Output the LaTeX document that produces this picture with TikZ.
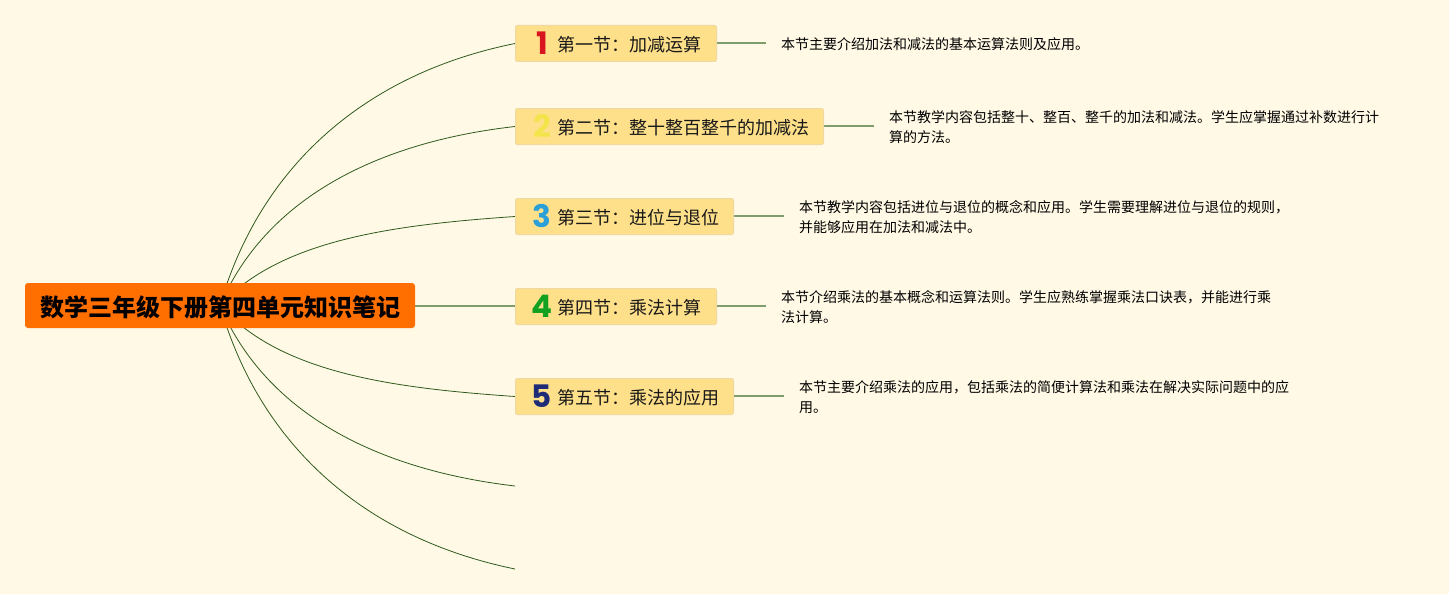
\documentclass[tikz,border=0pt]{standalone}
\usepackage{fontspec}
\setmainfont{Noto Sans CJK SC}
\newfontfamily\numfont{Poppins}
\pgfdeclarelayer{paper}
\pgfdeclarelayer{edges}
\pgfsetlayers{paper,edges,main}
\definecolor{bgc}{HTML}{FFF9E6}
\definecolor{rootc}{HTML}{FF6F00}
\definecolor{boxc}{HTML}{FFE08A}
\definecolor{boxl}{HTML}{EFD9A0}
\definecolor{curvec}{HTML}{2E5A1C}
\definecolor{stubc}{HTML}{7E9C6C}
\definecolor{num1}{HTML}{D8141E}
\definecolor{num2}{HTML}{F3E44C}
\definecolor{num3}{HTML}{2A9FD8}
\definecolor{num4}{HTML}{12A020}
\definecolor{num5}{HTML}{1E2C78}
\tikzset{
  x=1pt,y=-1pt,
  rootbox/.style={fill=rootc,rounded corners=3pt,minimum width=390pt,minimum height=45pt,inner sep=0pt},
  roottext/.style={font=\fontsize{24}{24}\selectfont\bfseries,text=black,inner sep=0pt},
  secbox/.style={fill=boxc,draw=boxl,line width=1pt,rounded corners=2pt,minimum height=36pt,inner sep=0pt,anchor=west},
  sectext/.style={font=\fontsize{18}{18}\selectfont,text=black!90,anchor=west,inner sep=0pt},
  numtext/.style={font=\numfont\fontsize{31}{31}\selectfont\bfseries,anchor=center,inner sep=0pt},
  desc/.style={font=\fontsize{14}{20.5}\selectfont,text=black,anchor=west,align=left,inner sep=0pt},
  curve/.style={draw=curvec,line width=0.8pt},
  stub/.style={draw=stubc,line width=1.6pt},
}
\begin{document}
\begin{tikzpicture}
\begin{pgfonlayer}{paper}
\path[use as bounding box,fill=bgc] (0,0) rectangle (1449,594);
\end{pgfonlayer}
\node[rootbox] (root) at (220,305.5) {};
\node[roottext] (rt) at (220.5,307) {数学三年级下册第四单元知识笔记};
\node[secbox,minimum width=201pt] (s1) at (515,43.5) {};
\node[secbox,minimum width=308pt] (s2) at (515,126.5) {};
\node[secbox,minimum width=218pt] (s3) at (515,216.5) {};
\node[secbox,minimum width=201pt] (s4) at (515,306.5) {};
\node[secbox,minimum width=218pt] (s5) at (515,396.5) {};
\node[numtext,text=num1] (n1) at (542,43) {1};
\node[numtext,text=num2] (n2) at (542,126) {2};
\node[numtext,text=num3] (n3) at (542,216) {3};
\node[numtext,text=num4] (n4) at (542,306) {4};
\node[numtext,text=num5] (n5) at (542,396) {5};
\node[sectext] (t1) at (557.5,45) {第一节：加减运算};
\node[sectext] (t2) at (557.5,128) {第二节：整十整百整千的加减法};
\node[sectext] (t3) at (557.5,218) {第三节：进位与退位};
\node[sectext] (t4) at (557.5,308) {第四节：乘法计算};
\node[sectext] (t5) at (557.5,398) {第五节：乘法的应用};
\coordinate (e1) at (766,43);
\coordinate (e2) at (874,126);
\coordinate (e3) at (784,216);
\coordinate (e4) at (766,306);
\coordinate (e5) at (784,396);
\coordinate (r4) at (415,306);
\node[desc] (d1) at (781,44) {本节主要介绍加法和减法的基本运算法则及应用。};
\node[desc] (d2) at (889,127) {本节教学内容包括整十、整百、整千的加法和减法。学生应掌握通过补数进行计\\算的方法。};
\node[desc] (d3) at (799,217) {本节教学内容包括进位与退位的概念和应用。学生需要理解进位与退位的规则，\\并能够应用在加法和减法中。};
\node[desc] (d4) at (781,307) {本节介绍乘法的基本概念和运算法则。学生应熟练掌握乘法口诀表，并能进行乘\\法计算。};
\node[desc] (d5) at (799,397) {本节主要介绍乘法的应用，包括乘法的简便计算法和乘法在解决实际问题中的应\\用。};
\coordinate (f6) at (515,486);
\coordinate (f7) at (515,569);
\begin{pgfonlayer}{edges}
\draw[curve] (root.center) .. controls (260,167) and (364,74) .. (s1.west);
\draw[curve] (root.center) .. controls (266,198) and (378,142) .. (s2.west);
\draw[curve] (root.center) .. controls (280,240) and (392,225) .. (s3.west);
\draw[stub] (r4) -- (r4 -| s4.west);
\draw[curve] (root.center) .. controls (280,373) and (392,388) .. (s5.west);
\draw[curve] (root.center) .. controls (266,414) and (378,470) .. (f6);
\draw[curve] (root.center) .. controls (260,445) and (364,538) .. (f7);
\draw[stub] (e1 -| s1.east) -- (e1);
\draw[stub] (e2 -| s2.east) -- (e2);
\draw[stub] (e3 -| s3.east) -- (e3);
\draw[stub] (e4 -| s4.east) -- (e4);
\draw[stub] (e5 -| s5.east) -- (e5);
\end{pgfonlayer}
\end{tikzpicture}
\end{document}
